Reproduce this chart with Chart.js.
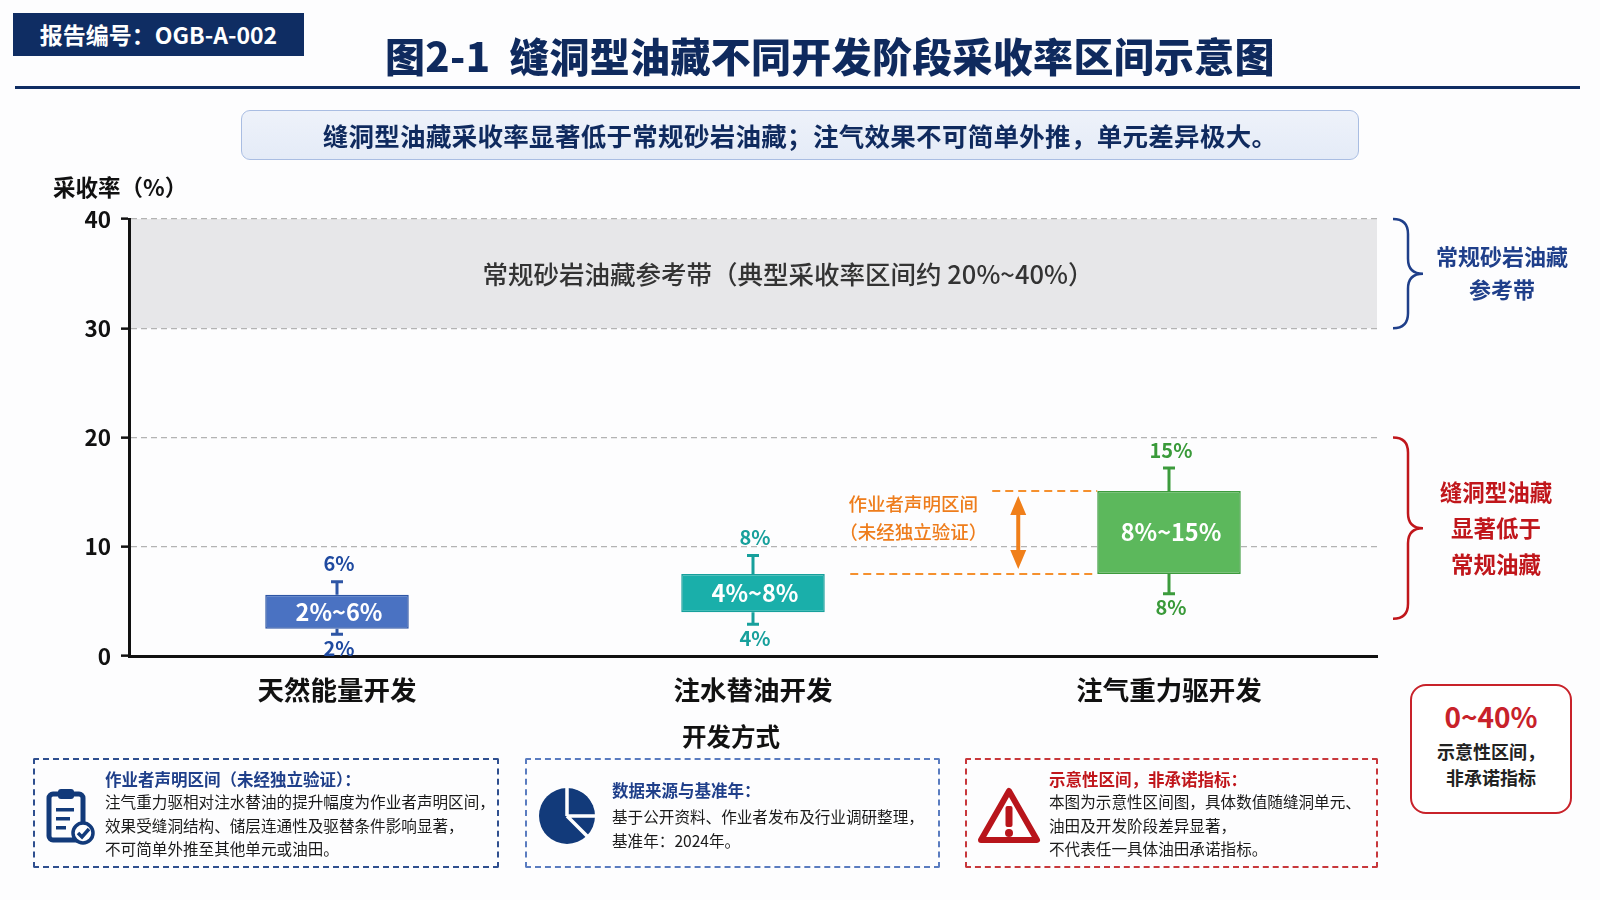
<!DOCTYPE html>
<html lang="zh-CN">
<head>
<meta charset="utf-8">
<title>图2-1 缝洞型油藏不同开发阶段采收率区间示意图</title>
<script src="https://cdn.jsdelivr.net/npm/chart.js@4.4.1/dist/chart.umd.min.js"></script>
<style>
  html, body { margin: 0; padding: 0; }
  body {
    width: 1600px; height: 900px; position: relative; overflow: hidden;
    background: #fdfdfe;
    font-family: "Noto Sans CJK SC", "Noto Sans", sans-serif;
    color: #1a1a1a;
  }
  #chart { position: absolute; left: 0; top: 0; }
  .abs { position: absolute; white-space: nowrap; }
  .tag {
    left: 13px; top: 13px; width: 291px; height: 43px; background: #0f2d63;
    color: #fff; font-weight: 700; font-size: 23px; line-height: 43px; text-align: center;
  }
  .title {
    left: 0; width: 1660px; top: 26px; text-align: center;
    font-size: 40px; font-weight: 800; color: #0f2a5e; letter-spacing: 0.3px;
  }
  .rule { left: 15px; top: 86px; width: 1565px; height: 3px; background: #0f2d63; }
  .subtitle {
    left: 241px; top: 110px; width: 1116px; height: 48px; border: 1.5px solid #a9bde2;
    border-radius: 9px; background: linear-gradient(#eef2fa, #e4ebf7);
    color: #0f2a5e; font-weight: 700; font-size: 25.5px; line-height: 48px; text-align: center;
    letter-spacing: 0.3px;
  }
  .ytitle { left: 53px; top: 170px; font-size: 22.5px; font-weight: 700; color: #111; }
  .xtitle { left: 0; width: 1462px; top: 718px; text-align: center; font-size: 24.5px; font-weight: 700; color: #111; }
  .note {
    top: 758px; height: 110px; border: 2px dashed #2f4f8f; border-radius: 2px; box-sizing: border-box;
  }
  .note .h { position: absolute; font-weight: 700; font-size: 16.5px; color: #1f3f8a; }
  .note .b { position: absolute; font-size: 15.6px; line-height: 23.5px; color: #1a1a1a; }
  .keybox {
    left: 1410px; top: 684px; width: 162px; height: 130px; box-sizing: border-box;
    border: 2px solid #c8222a; border-radius: 16px; text-align: center; background: #fff;
  }
</style>
</head>
<body>
<canvas id="chart" width="1600" height="900"></canvas>

<div class="abs tag">报告编号：OGB-A-002</div>
<div class="abs title">图2-1&nbsp;&nbsp;缝洞型油藏不同开发阶段采收率区间示意图</div>
<div class="abs rule"></div>
<div class="abs subtitle">缝洞型油藏采收率显著低于常规砂岩油藏；注气效果不可简单外推，单元差异极大。</div>
<div class="abs ytitle">采收率（%）</div>
<div class="abs xtitle">开发方式</div>

<div class="abs keybox">
  <div style="margin-top:12px;font-size:28px;font-weight:700;color:#c8222a;line-height:36px;">0~40%</div>
  <div style="margin-top:4px;font-size:18px;font-weight:700;color:#222;line-height:26px;">示意性区间，<br>非承诺指标</div>
</div>

<div class="abs note" style="left:33px;width:466px;">
  <svg style="position:absolute;left:11px;top:26px" width="50" height="60" viewBox="0 0 50 60">
    <rect x="3" y="8" width="34" height="46" rx="4" fill="none" stroke="#123a7a" stroke-width="5"/>
    <rect x="12" y="3" width="16" height="10" rx="3" fill="#123a7a"/>
    <rect x="10" y="22" width="18" height="3.5" fill="#123a7a"/>
    <rect x="10" y="31" width="14" height="3.5" fill="#123a7a"/>
    <rect x="10" y="40" width="10" height="3.5" fill="#123a7a"/>
    <circle cx="37" cy="47" r="10" fill="#fff" stroke="#123a7a" stroke-width="3.5"/>
    <path d="M32 47 L36 51 L43 43" fill="none" stroke="#123a7a" stroke-width="3.5"/>
  </svg>
  <div class="h" style="left:70px;top:7px;">作业者声明区间（未经独立验证）：</div>
  <div class="b" style="left:70px;top:30px;">注气重力驱相对注水替油的提升幅度为作业者声明区间，<br>效果受缝洞结构、储层连通性及驱替条件影响显著，<br>不可简单外推至其他单元或油田。</div>
</div>

<div class="abs note" style="left:525px;width:415px;border-color:#5a7cc0;">
  <svg style="position:absolute;left:10px;top:26px" width="60" height="60" viewBox="0 0 60 60">
    <circle cx="30" cy="30" r="28" fill="#123a7a"/>
    <path d="M30 30 L30 0 M30 30 L60 30 M30 30 L51 51" stroke="#fff" stroke-width="3.5"/>
    <path d="M33 3 A26 26 0 0 1 57 27 L33 27 Z" fill="#123a7a"/>
  </svg>
  <div class="h" style="left:85px;top:18px;">数据来源与基准年：</div>
  <div class="b" style="left:85px;top:45px;">基于公开资料、作业者发布及行业调研整理，<br>基准年：2024年。</div>
</div>

<div class="abs note" style="left:965px;width:413px;border-color:#c8383c;">
  <svg style="position:absolute;left:10px;top:26px" width="64" height="58" viewBox="0 0 64 58">
    <path d="M32 5 L60 54 L4 54 Z" fill="#fff" stroke="#b8151b" stroke-width="6" stroke-linejoin="round"/>
    <rect x="28.5" y="20" width="7" height="21" rx="2" fill="#b8151b"/>
    <circle cx="32" cy="47" r="4" fill="#b8151b"/>
  </svg>
  <div class="h" style="left:82px;top:7px;color:#c0161b;">示意性区间，非承诺指标：</div>
  <div class="b" style="left:82px;top:30px;">本图为示意性区间图，具体数值随缝洞单元、<br>油田及开发阶段差异显著，<br>不代表任一具体油田承诺指标。</div>
</div>

<script>
// Categories and values (recovery factor, %)
const categories = ['天然能量开发', '注水替油开发', '注气重力驱开发'];
const boxLow = [2.5, 4.0, 7.5];
const boxHigh = [5.6, 7.5, 15.1];
const whiskerLow = [2.0, 2.9, 5.7];
const whiskerHigh = [6.8, 9.2, 17.2];
const rangeLabels = ['2%~6%', '4%~8%', '8%~15%'];
const lowLabels = ['2%', '4%', '8%'];
const highLabels = ['6%', '8%', '15%'];
const yTicks = [0, 10, 20, 30, 40];
const refBand = [30, 40];
const lowBrace = [3.4, 20];

const fillColors = ['#4a72c2', '#1aafaa', '#5cb85c'];
const edgeColors = ['#2e56a5', '#17a09c', '#3c9b3c'];
const labelColors = ['#1f4aa0', '#17a09c', '#3a9a3a'];
const FONT = '"Noto Sans CJK SC", "Noto Sans", sans-serif';

function drawBrace(ctx, x, yTop, yBot, w, color) {
    const h = w / 2;
    const mid = (yTop + yBot) / 2;
    ctx.save();
    ctx.strokeStyle = color;
    ctx.lineWidth = 2.5;
    ctx.beginPath();
    ctx.moveTo(x, yTop);
    ctx.quadraticCurveTo(x + h, yTop, x + h, yTop + h);
    ctx.lineTo(x + h, mid - h);
    ctx.quadraticCurveTo(x + h, mid, x + w, mid);
    ctx.quadraticCurveTo(x + h, mid, x + h, mid + h);
    ctx.lineTo(x + h, yBot - h);
    ctx.quadraticCurveTo(x + h, yBot, x, yBot);
    ctx.stroke();
    ctx.restore();
}

const bandPlugin = {
    id: 'band',
    beforeDraw(chart) {
        const { ctx, chartArea, scales: { y } } = chart;
        const top = y.getPixelForValue(refBand[1]);
        const bot = y.getPixelForValue(refBand[0]);
        ctx.save();
        ctx.fillStyle = '#e7e7e9';
        ctx.fillRect(chartArea.left, top, chartArea.right - chartArea.left, bot - top);
        ctx.fillStyle = '#333';
        ctx.font = `500 25.5px ${FONT}`;
        ctx.textAlign = 'center';
        ctx.textBaseline = 'middle';
        ctx.fillText('常规砂岩油藏参考带（典型采收率区间约 20%~40%）', (chartArea.left + chartArea.right) / 2 + 35, (top + bot) / 2 + 1);
        ctx.restore();
    }
};

const whiskerPlugin = {
    id: 'whiskers',
    afterDatasetsDraw(chart) {
        const { ctx, scales: { y } } = chart;
        const bars = chart.getDatasetMeta(0).data;
        ctx.save();
        bars.forEach((bar, i) => {
            const x = bar.x;
            const yBoxTop = y.getPixelForValue(boxHigh[i]);
            const yBoxBot = y.getPixelForValue(boxLow[i]);
            const yHi = y.getPixelForValue(whiskerHigh[i]);
            const yLo = y.getPixelForValue(whiskerLow[i]);
            ctx.strokeStyle = edgeColors[i];
            ctx.lineWidth = 3;
            ctx.beginPath();
            ctx.moveTo(x, yBoxTop); ctx.lineTo(x, yHi);
            ctx.moveTo(x - 6, yHi); ctx.lineTo(x + 6, yHi);
            ctx.moveTo(x, yBoxBot); ctx.lineTo(x, yLo);
            ctx.moveTo(x - 6, yLo); ctx.lineTo(x + 6, yLo);
            ctx.stroke();

            ctx.textAlign = 'center';
            ctx.textBaseline = 'middle';
            ctx.fillStyle = labelColors[i];
            ctx.font = `700 20px ${FONT}`;
            ctx.fillText(highLabels[i], x + 2, yHi - 18);
            ctx.fillText(lowLabels[i], x + 2, yLo + 14);

            ctx.fillStyle = '#fff';
            ctx.font = `700 23.5px ${FONT}`;
            ctx.fillText(rangeLabels[i], x + 2, (yBoxTop + yBoxBot) / 2);
        });

        // operator-claimed interval marker beside the gas-injection box
        const gas = bars[2];
        const left = gas.x - gas.width / 2;
        const yT = y.getPixelForValue(boxHigh[2]);
        const yB = y.getPixelForValue(boxLow[2]);
        ctx.strokeStyle = '#f5902e';
        ctx.lineWidth = 2;
        ctx.setLineDash([8, 5]);
        ctx.beginPath();
        ctx.moveTo(left - 105, yT); ctx.lineTo(left, yT);
        ctx.moveTo(left - 247, yB); ctx.lineTo(left, yB);
        ctx.stroke();
        ctx.setLineDash([]);
        const ax = left - 79;
        ctx.strokeStyle = '#f07f1a';
        ctx.fillStyle = '#f07f1a';
        ctx.lineWidth = 4;
        ctx.beginPath();
        ctx.moveTo(ax, yT + 20); ctx.lineTo(ax, yB - 20);
        ctx.stroke();
        ctx.beginPath();
        ctx.moveTo(ax, yT + 5); ctx.lineTo(ax - 8, yT + 24); ctx.lineTo(ax + 8, yT + 24); ctx.closePath();
        ctx.moveTo(ax, yB - 5); ctx.lineTo(ax - 8, yB - 24); ctx.lineTo(ax + 8, yB - 24); ctx.closePath();
        ctx.fill();
        ctx.font = `500 18.5px ${FONT}`;
        ctx.fillStyle = '#ee7d1c';
        ctx.fillText('作业者声明区间', left - 184, yT + 13);
        ctx.fillText('（未经独立验证）', left - 184, yT + 41);
        ctx.restore();
    },
    afterDraw(chart) {
        const { ctx, chartArea, scales: { y } } = chart;
        const bx = chartArea.right + 16;
        drawBrace(ctx, bx, y.getPixelForValue(refBand[1]), y.getPixelForValue(refBand[0]), 30, '#1f3f8a');
        drawBrace(ctx, bx, y.getPixelForValue(lowBrace[1]), y.getPixelForValue(lowBrace[0]), 30, '#c0161b');
        ctx.save();
        ctx.textAlign = 'center';
        ctx.textBaseline = 'middle';
        ctx.font = `700 22px ${FONT}`;
        ctx.fillStyle = '#1f3f8a';
        const midRef = (y.getPixelForValue(refBand[1]) + y.getPixelForValue(refBand[0])) / 2;
        ctx.fillText('常规砂岩油藏', bx + 109, midRef - 17);
        ctx.fillText('参考带', bx + 109, midRef + 16);
        ctx.fillStyle = '#c0161b';
        ctx.font = `700 22.5px ${FONT}`;
        const midLow = (y.getPixelForValue(lowBrace[1]) + y.getPixelForValue(lowBrace[0])) / 2;
        ctx.fillText('缝洞型油藏', bx + 103, midLow - 36);
        ctx.fillText('显著低于', bx + 103, midLow + 0);
        ctx.fillText('常规油藏', bx + 103, midLow + 36);
        ctx.restore();
    }
};

const ctx = document.getElementById('chart').getContext('2d');
new Chart(ctx, {
    type: 'bar',
    data: {
        labels: categories,
        datasets: [{
            label: '采收率区间',
            data: boxLow.map((lo, i) => [lo, boxHigh[i]]),
            backgroundColor: fillColors,
            borderColor: edgeColors,
            borderWidth: 1.5,
            borderSkipped: false,
            categoryPercentage: 1,
            barPercentage: 0.345
        }]
    },
    options: {
        responsive: false,
        animation: false,
        layout: { padding: { left: 0, top: 219, right: 223, bottom: 184 } },
        plugins: {
            legend: { display: false },
            tooltip: { enabled: false }
        },
        scales: {
            x: {
                afterFit: s => { s.height = 60; },
                grid: { display: false, drawTicks: false },
                border: { display: true, color: '#111', width: 3 },
                ticks: { padding: 18, color: '#111', font: { family: FONT, size: 26.5, weight: '700' } }
            },
            y: {
                min: yTicks[0],
                max: yTicks[yTicks.length - 1],
                afterFit: s => { s.width = 129; },
                afterBuildTicks: s => { s.ticks = yTicks.map(v => ({ value: v })); },
                grid: { color: '#b3b3b3', lineWidth: 1.3, tickLength: 8, tickColor: '#111', tickWidth: 2.5, tickBorderDash: [] },
                border: { display: true, color: '#111', width: 3, dash: [6, 4] },
                ticks: { padding: 10, color: '#111', font: { family: FONT, size: 22.5, weight: '700' } }
            }
        }
    },
    plugins: [bandPlugin, whiskerPlugin]
});
</script>
</body>
</html>
